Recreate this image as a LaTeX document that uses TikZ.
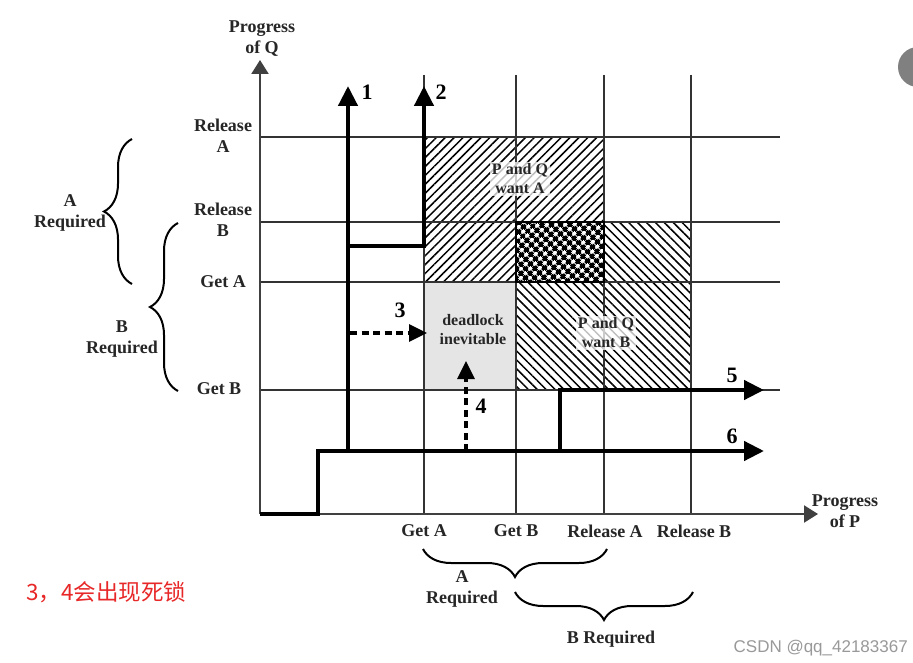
\documentclass[tikz,border=0pt]{standalone}
\usepackage{fontspec}
\setmainfont{Liberation Serif}
\newfontfamily\cjkfont{Noto Sans CJK SC}
\newfontfamily\wmfont{Liberation Sans}
\usetikzlibrary{arrows.meta,patterns.meta,decorations.pathreplacing}
\begin{document}
\begin{tikzpicture}[x=1pt,y=-1pt,
  lbl/.style={font=\fontsize{18}{21}\selectfont\bfseries, text=black!85, align=center, inner sep=0pt},
  inlbl/.style={font=\fontsize{16}{19}\selectfont\bfseries, text=black!85, align=center, inner sep=1.5pt, fill=white, fill opacity=0.75, text opacity=1},
  num/.style={font=\fontsize{22}{24}\selectfont\bfseries, inner sep=0pt},
  gridline/.style={line width=1.6pt, black!80},
  pth/.style={line width=4.4pt, black, line join=miter},
  bigarrow/.style={-{Triangle[length=20pt,width=19pt]}},
  dsh/.style={line width=3.2pt, black, dash pattern=on 7pt off 4.5pt, -{Triangle[length=18pt,width=17pt]}},
  axisline/.style={line width=2.2pt, black!75, -{Triangle[length=14pt,width=17pt]}},
  brc/.style={decorate, decoration={brace,amplitude=28pt}, line width=2pt},
  wantA/.style={pattern={Lines[angle=45,distance=6.3pt,line width=1.5pt]}},
  wantB/.style={pattern={Lines[angle=-45,distance=6.3pt,line width=1.5pt]}},
]
\useasboundingbox[fill=white] (0,0) rectangle (913,663);

% regions
\fill[black!10] (424,282) rectangle (516,390);
\fill[wantA] (424,137) rectangle (604,282);
\fill[wantB] (516,222) rectangle (691,390);
\fill[white] (516,222) rectangle (604,282);
\fill[pattern={Hatch[angle=45,distance=6.5pt,line width=3.2pt]}] (516,222) rectangle (604,282);

% grid
\foreach \yy in {137,222,282,390} \draw[gridline] (260,\yy) -- (780,\yy);
\foreach \xx in {424,516,604,691} \draw[gridline] (\xx,75) -- (\xx,514);
\draw[line width=2pt] (516,222) rectangle (604,282);

% axes
\coordinate (o) at (260,514);
\coordinate (qtip) at (260,60);
\coordinate (ptip) at (818,514);
\draw[axisline] (o) -- (qtip);
\draw[axisline] (o) -- (ptip);

% paths
\coordinate (s1) at (318,514);
\coordinate (s2) at (318,451);
\coordinate (b1) at (348,451);
\coordinate (t1) at (348,86);
\coordinate (b2) at (348,246);
\coordinate (c2) at (424,246);
\coordinate (t2) at (424,86);
\coordinate (b5) at (560,451);
\coordinate (c5) at (560,390);
\coordinate (t5) at (764,390);
\coordinate (t6) at (764,451);
\draw[pth] (o) -- (s1) -- (s2) -- (b1);
\draw[pth,bigarrow] (b1) -- (t1);
\draw[pth,bigarrow] (b1) -- (t6);
\draw[pth,bigarrow] (b2) -- (c2) -- (t2);
\draw[pth,bigarrow] (b5) -- (c5) -- (t5);

\coordinate (d3a) at (350,333);
\coordinate (d3b) at (427,333);
\coordinate (d4a) at (466,451);
\coordinate (d4b) at (466,361);
\draw[dsh] (d3a) -- (d3b);
\draw[dsh] (d4a) -- (d4b);

% path numbers
\node[num] (n1) at (367,92) {1};
\node[num] (n2) at (441,92) {2};
\node[num] (n3) at (400,310) {3};
\node[num] (n4) at (481,406) {4};
\node[num] (n5) at (732,375) {5};
\node[num] (n6) at (732,436) {6};

% region labels
\node[inlbl] (ra) at (520,179) {P and Q\\want A};
\node[inlbl] (rb) at (606,333) {P and Q\\want B};
\node[inlbl,fill=none] (rd) at (473,330) {deadlock\\inevitable};

% axis titles
\node[lbl] (pq) at (262,39) {Progress\\of Q};
\node[lbl] (pp) at (845,511) {Progress\\of P};

% y labels
\node[lbl] (yra) at (223,136) {Release\\A};
\node[lbl] (yrb) at (223,220) {Release\\B};
\node[lbl] (yga) at (223,282) {Get A};
\node[lbl] (ygb) at (219,389) {Get B};

% x labels
\node[lbl] (xga) at (424,531) {Get A};
\node[lbl] (xgb) at (516,531) {Get B};
\node[lbl] (xra) at (605,531) {Release A};
\node[lbl] (xrb) at (694,531) {Release B};

% braces left
\coordinate (ba1) at (132,284);
\coordinate (ba2) at (132,139);
\coordinate (bb1) at (178,391);
\coordinate (bb2) at (178,223);
\draw[brc] (ba1) -- (ba2);
\draw[brc] (bb1) -- (bb2);
\node[lbl] (la) at (70,213) {A\\Required};
\node[lbl] (lb) at (122,339) {B\\Required};

% braces bottom
\coordinate (bc1) at (607,549);
\coordinate (bc2) at (423,549);
\coordinate (bd1) at (693,592);
\coordinate (bd2) at (515,592);
\draw[brc] (bc1) -- (bc2);
\draw[brc] (bd1) -- (bd2);
\node[lbl] (lc) at (462,589) {A\\Required};
\node[lbl] (ld) at (611,639) {B Required};

% annotation
\node[font=\cjkfont\fontsize{22.5}{24}\selectfont, text={rgb,255:red,232;green,40;blue,40}, anchor=west, inner sep=0pt] (note) at (26,592) {3，4会出现死锁};
\node[font=\wmfont\fontsize{17}{19}\selectfont, text=black!40, anchor=east, inner sep=0pt] (wm) at (908,648) {CSDN @qq\_42183367};

% grey circle at edge
\fill[black!50] (918,67) circle (20);
\end{tikzpicture}
\end{document}
